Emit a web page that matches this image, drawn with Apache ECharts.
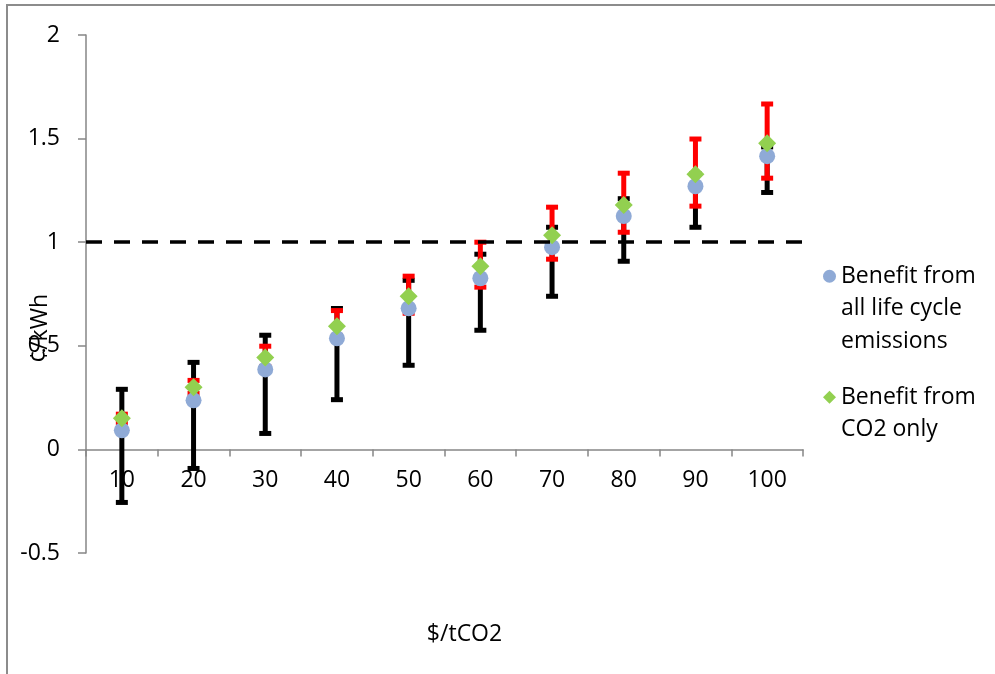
<!DOCTYPE html>
<html>
<head>
<meta charset="utf-8">
<script src="https://cdn.jsdelivr.net/npm/echarts@6/dist/echarts.min.js"></script>
<style>
  html, body { margin: 0; padding: 0; background: #fff; }
  #chart { width: 995px; height: 674px; }
</style>
</head>
<body>
<div id="chart"></div>
<script>
// carbon price categories ($/tCO2)
const prices = ["10", "20", "30", "40", "50", "60", "70", "80", "90", "100"];

// benefit from all life cycle emissions (c/kWh) with its range
const allLife = [0.092, 0.237, 0.386, 0.536, 0.681, 0.826, 0.976, 1.126, 1.27, 1.415];
const allLow = [-0.256, -0.092, 0.077, 0.24, 0.406, 0.575, 0.739, 0.908, 1.072, 1.24];
const allHigh = [0.29, 0.42, 0.551, 0.68, 0.816, 0.942, 1.072, 1.21, 1.33, 1.46];

// benefit from CO2 only with its range
const co2Only = [0.15, 0.3, 0.444, 0.594, 0.739, 0.884, 1.034, 1.18, 1.328, 1.478];
const co2Low = [0.13, 0.27, 0.4, 0.55, 0.657, 0.783, 0.918, 1.048, 1.174, 1.309];
const co2High = [0.17, 0.333, 0.498, 0.67, 0.836, 1.0, 1.169, 1.333, 1.498, 1.667];

// y axis ticks
const yMin = -0.5;
const yMax = 2;
const yStep = 0.5;
const threshold = 1;

const font = "'Open Sans', 'Noto Sans', sans-serif";
const axisColor = "#868686";
const lineH = 32.5;

const chart = echarts.init(document.getElementById("chart"));

// error bar drawn as a vertical stem with two caps
const errorBar = (color) => (params, api) => {
  const i = api.value(0);
  const lo = api.coord([i, api.value(1)]);
  const hi = api.coord([i, api.value(2)]);
  const half = 6;
  const style = { stroke: color, lineWidth: 5 };
  return {
    type: "group",
    children: [
      { type: "line", shape: { x1: lo[0], y1: lo[1], x2: hi[0], y2: hi[1] }, style },
      { type: "line", shape: { x1: lo[0] - half, y1: lo[1], x2: lo[0] + half, y2: lo[1] }, style },
      { type: "line", shape: { x1: hi[0] - half, y1: hi[1], x2: hi[0] + half, y2: hi[1] }, style },
    ],
  };
};

chart.setOption({
  backgroundColor: "#fff",
  animation: false,
  textStyle: { fontFamily: font },
  graphic: [
    {
      type: "rect",
      shape: { x: 7, y: 5, width: 1200, height: 900 },
      style: { fill: "none", stroke: "#8c8c8c", lineWidth: 2 },
      silent: true,
    },
  ],
  grid: { left: 86, right: 192, top: 35, bottom: 121, outerBoundsMode: "none", containLabel: false },
  legend: {
    orient: "vertical",
    left: 823,
    top: 195,
    padding: 0,
    itemGap: -9,
    itemWidth: 13,
    itemHeight: 13,
    selectedMode: false,
    textStyle: { fontFamily: font, fontSize: 23, color: "#000", lineHeight: lineH },
    data: [
      { name: "Benefit from all life cycle emissions", icon: "circle" },
      { name: "Benefit from CO2 only", icon: "diamond" },
    ],
    // leading blank lines keep the icon level with the first text line
    formatter: (name) =>
      name === "Benefit from CO2 only"
        ? " \nBenefit from\nCO2 only"
        : " \n \nBenefit from\nall life cycle\nemissions",
  },
  xAxis: {
    type: "category",
    data: prices,
    boundaryGap: true,
    offset: -103.5,
    name: "$/tCO2",
    nameLocation: "middle",
    nameMoveOverlap: false,
    nameGap: 169,
    nameTextStyle: {
      fontFamily: font,
      fontSize: 23,
      color: "#000",
      lineHeight: 32,
      padding: [0, 0, 0, 40],
    },
    axisLine: { onZero: false, lineStyle: { color: axisColor, width: 1.5 } },
    axisTick: { show: true, length: 7, lineStyle: { color: axisColor, width: 1.5 } },
    axisLabel: { fontSize: 23, color: "#000", margin: 17, lineHeight: 28 },
    splitLine: { show: false },
  },
  yAxis: {
    type: "value",
    min: yMin,
    max: yMax,
    interval: yStep,
    name: "¢/kWh",
    nameLocation: "middle",
    nameRotate: 90,
    nameMoveOverlap: false,
    nameGap: 34,
    nameTextStyle: {
      fontFamily: font,
      fontSize: 23,
      color: "#000",
      align: "right",
    },
    axisLine: { show: true, onZero: false, lineStyle: { color: axisColor, width: 1.5 } },
    axisTick: { show: true, length: 8, lineStyle: { color: axisColor, width: 1.5 } },
    axisLabel: { fontSize: 23, color: "#000", margin: 26 },
    splitLine: { show: false },
  },
  series: [
    {
      type: "custom",
      name: "all range",
      renderItem: errorBar("#000"),
      data: prices.map((p, i) => [i, allLow[i], allHigh[i]]),
      z: 1,
      silent: true,
    },
    {
      type: "custom",
      name: "co2 range",
      renderItem: errorBar("#ff0000"),
      data: prices.map((p, i) => [i, co2Low[i], co2High[i]]),
      z: 2,
      silent: true,
    },
    {
      type: "scatter",
      name: "Benefit from all life cycle emissions",
      data: allLife,
      symbol: "circle",
      symbolSize: 16,
      itemStyle: { color: "#8faad6", opacity: 1 },
      z: 3,
      markLine: {
        silent: true,
        symbol: ["none", "none"],
        label: { show: false },
        lineStyle: { color: "#000", type: [16, 12], width: 3.5 },
        data: [{ yAxis: threshold }],
      },
    },
    {
      type: "scatter",
      name: "Benefit from CO2 only",
      data: co2Only,
      symbol: "diamond",
      symbolSize: 18,
      itemStyle: { color: "#92d050", opacity: 1 },
      z: 4,
    },
  ],
});

window.addEventListener("resize", chart.resize);
</script>
</body>
</html>
